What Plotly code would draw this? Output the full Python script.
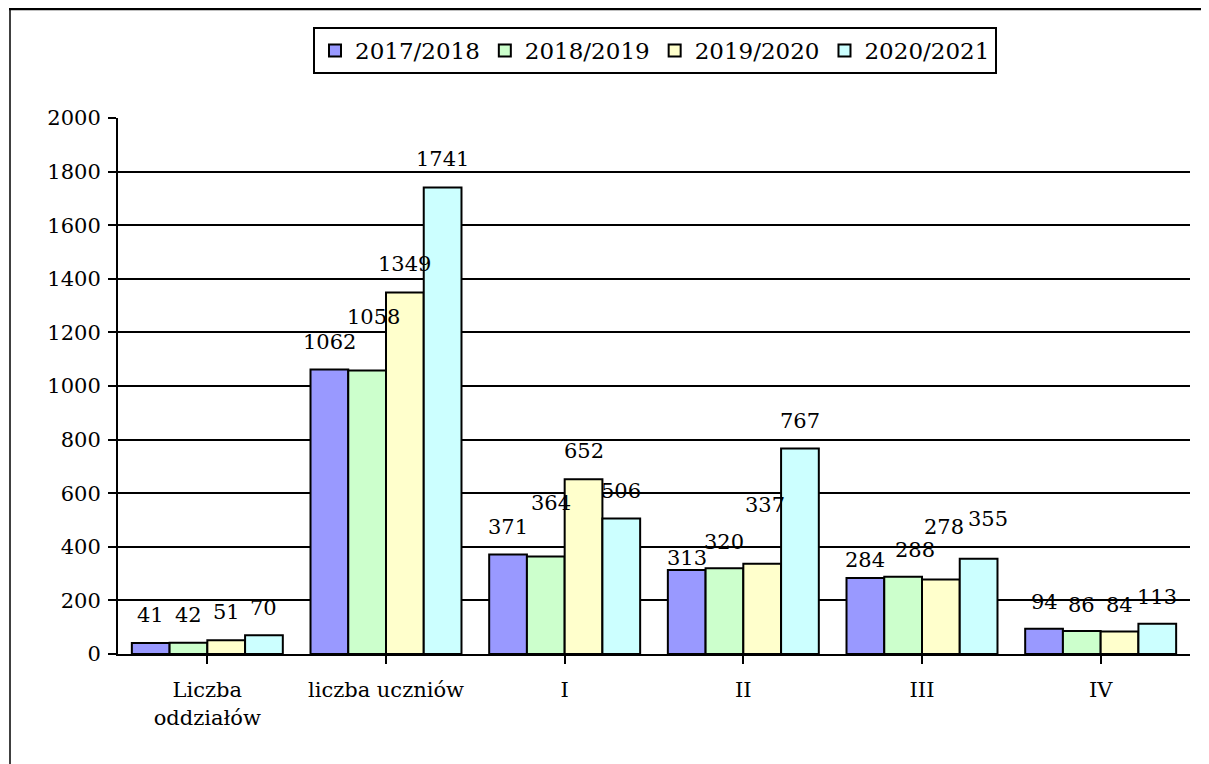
import plotly.graph_objects as go

categories = ["Liczba<br>oddziałów", "liczba uczniów", "I", "II", "III", "IV"]
series_names = ["2017/2018", "2018/2019", "2019/2020", "2020/2021"]
v_2017 = [41, 1062, 371, 313, 284, 94]
v_2018 = [42, 1058, 364, 320, 288, 86]
v_2019 = [51, 1349, 652, 337, 278, 84]
v_2020 = [70, 1741, 506, 767, 355, 113]
values = [v_2017, v_2018, v_2019, v_2020]
y_ticks = [0, 200, 400, 600, 800, 1000, 1200, 1400, 1600, 1800, 2000]

# styles
colors = ["#9999FF", "#CCFFCC", "#FFFFCC", "#CCFFFF"]
# label offsets (pixels) above bar tops, and horizontal nudges
label_dy = [
    [27, 26, 27, 11, 17, 26],
    [27, 52, 52, 25, 26, 25],
    [27, 27, 27, 58, 52, 25],
    [26, 27, 26, 26, 39, 26],
]
label_dx = [
    [0, 0, 0, 0, 0, 0],
    [0, 6, 5, 0, 12, 0],
    [0, 0, 0, 3, 3, 0],
    [0, 0, 0, 0, 9, 0],
]

FONT = "DejaVu Serif"
W, H = 1209, 764
OFF = 8  # page offset of the figure in the browser
ML, MR, MT, MB = 118 - OFF, 19 + OFF, 118 - OFF, 110 + OFF
BARGAP = 0.155
n_series = len(series_names)

fig = go.Figure()
for name, vals, col in zip(series_names, values, colors):
    fig.add_trace(go.Bar(
        x=list(range(len(categories))), y=vals, name=name,
        marker=dict(color=col, line=dict(color="black", width=2)),
        hoverinfo="skip",
    ))

bar_w = (1 - BARGAP) / n_series
annotations = []
for j, vals in enumerate(values):
    for i, v in enumerate(vals):
        annotations.append(dict(
            x=i + (j - (n_series - 1) / 2) * bar_w, y=v, xref="x", yref="y",
            text=str(v), showarrow=False, yanchor="middle", xanchor="center",
            yshift=label_dy[j][i] + 1, xshift=label_dx[j][i],
            font=dict(family=FONT, size=21, color="black"),
        ))

pw = W - ML - MR
ph = H - MT - MB
def px_x(p):
    # p in screenshot pixels
    return (p - OFF - ML) / pw
def px_y(p):
    return (H - MB - (p - OFF)) / ph

shapes = [
    dict(type="line", xref="paper", yref="paper", x0=px_x(10), x1=px_x(10),
         y0=px_y(8), y1=px_y(H + 40), line=dict(color="black", width=1.5)),
    dict(type="line", xref="paper", yref="paper", x0=px_x(9), x1=px_x(W + 40),
         y0=px_y(9), y1=px_y(9), line=dict(color="black", width=2.5)),
]

fig.update_layout(
    width=W, height=H,
    margin=dict(l=ML, r=MR, t=MT, b=MB),
    paper_bgcolor="white", plot_bgcolor="white",
    barmode="group", bargap=BARGAP, bargroupgap=0,
    font=dict(family=FONT, size=21, color="black"),
    showlegend=True,
    legend=dict(orientation="h", x=px_x(655), xanchor="center",
                y=px_y(27), yanchor="top",
                bordercolor="black", borderwidth=2,
                font=dict(family=FONT, size=23, color="black"),
                itemclick=False, itemdoubleclick=False),
    annotations=annotations,
    shapes=shapes,
    xaxis=dict(
        tickmode="array", tickvals=list(range(len(categories))), ticktext=categories,
        range=[-0.5, len(categories) - 0.5],
        showline=True, linecolor="black", linewidth=2,
        ticks="outside", tickson="boundaries", ticklen=8, tickwidth=2, tickcolor="black",
        showgrid=False, zeroline=False,
        tickfont=dict(family=FONT, size=21, color="black"),
        ticklabelstandoff=8,
    ),
    yaxis=dict(
        range=[0, 2000], tickvals=y_ticks,
        showline=True, linecolor="black", linewidth=2,
        ticks="outside", ticklen=8, tickwidth=2, tickcolor="black",
        showgrid=True, gridcolor="black", gridwidth=2,
        zeroline=False,
        tickfont=dict(family=FONT, size=21, color="black"),
        ticklabelstandoff=3,
    ),
)

fig.write_html("out.html")
